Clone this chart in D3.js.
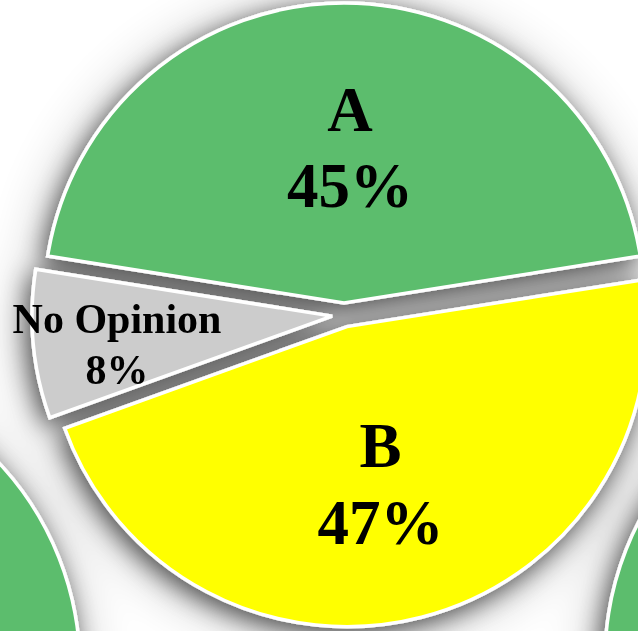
<!DOCTYPE html>
<html>
<head>
<meta charset="utf-8">
<script src="https://cdn.jsdelivr.net/npm/d3@7"></script>
<style>
  html, body { margin: 0; padding: 0; background: #fff; }
  svg { display: block; }
</style>
</head>
<body>
<svg id="chart" width="638" height="631"></svg>
<script>
// Survey responses
const categories = ["A", "B", "No Opinion"];
const values = [45, 47, 8];
const colors = ["#5bbd6d", "#ffff00", "#cccccc"];

const W = 638, H = 631;
const radius = 300;
const explode = 12;
const center = [344, 315];
// neighbouring pies of the grid, partly in view
const neighbours = [[-220, 668], [905, 660]];

const svg = d3.select("#chart");

// soft drop shadow: a tight blur plus a wider haze
const defs = svg.append("defs");
const f = defs.append("filter").attr("id", "shadow")
  .attr("filterUnits", "userSpaceOnUse")
  .attr("x", -150).attr("y", -150).attr("width", W + 300).attr("height", H + 300);
f.append("feGaussianBlur").attr("in", "SourceAlpha").attr("stdDeviation", 12).attr("result", "blurA");
f.append("feOffset").attr("in", "blurA").attr("dx", -4).attr("dy", 6).attr("result", "offA");
f.append("feComponentTransfer").attr("in", "offA").attr("result", "shadeA")
  .append("feFuncA").attr("type", "linear").attr("slope", 0.6);
f.append("feGaussianBlur").attr("in", "SourceAlpha").attr("stdDeviation", 28).attr("result", "blurB");
f.append("feOffset").attr("in", "blurB").attr("dx", -4).attr("dy", 6).attr("result", "offB");
f.append("feComponentTransfer").attr("in", "offB").attr("result", "shadeB")
  .append("feFuncA").attr("type", "linear").attr("slope", 0.3);
const merge = f.append("feMerge");
merge.append("feMergeNode").attr("in", "shadeB");
merge.append("feMergeNode").attr("in", "shadeA");
merge.append("feMergeNode").attr("in", "SourceGraphic");

const color = d3.scaleOrdinal().domain(categories).range(colors);

const total = d3.sum(values);
// first slice centred on twelve o'clock
const start = -Math.PI * values[0] / total;
const pie = d3.pie().sort(null).value(d => d.value)
  .startAngle(start).endAngle(start + 2 * Math.PI);
const data = categories.map((c, i) => ({ label: c, value: values[i] }));
const arcs = pie(data);

const arc = d3.arc().innerRadius(0).outerRadius(radius);

const plot = svg.append("g").attr("filter", "url(#shadow)");

// neighbouring pies: only their first slice is within the view
neighbours.forEach(c => {
  plot.append("circle")
    .attr("cx", c[0]).attr("cy", c[1]).attr("r", radius)
    .attr("fill", color(categories[0]))
    .attr("stroke", "#fff").attr("stroke-width", 3.5);
});

function offset(d) {
  const a = (d.startAngle + d.endAngle) / 2;
  return [center[0] + explode * Math.sin(a), center[1] - explode * Math.cos(a)];
}

plot.selectAll("path.slice")
  .data(arcs)
  .join("path")
  .attr("class", "slice")
  .attr("transform", d => `translate(${offset(d)})`)
  .attr("d", arc)
  .attr("fill", d => color(d.data.label))
  .attr("stroke", "#fff")
  .attr("stroke-width", 3.5)
  .attr("stroke-linejoin", "miter");

// labels: category on the first line, share on the second
const labels = svg.append("g")
  .attr("font-family", "'Liberation Serif', 'Times New Roman', serif")
  .attr("font-weight", "bold")
  .attr("fill", "#000")
  .attr("text-anchor", "middle");

arcs.forEach(d => {
  const small = d.value / total < 0.1;
  const fs = small ? 42 : 63;
  const lr = radius * (small ? 0.76 : 0.57);
  const p = d3.arc().innerRadius(lr).outerRadius(lr).centroid(d);
  // labels sit slightly left of and below the bisector point
  const x = center[0] + p[0] + (small ? 0 : -6) * Math.sign(p[1]);
  const y = center[1] + p[1] + (small ? 7 : 3);
  const gap = fs * 1.22;
  const t = labels.append("text").attr("font-size", fs);
  t.append("tspan").attr("x", x).attr("y", y - gap / 2 + fs * 0.35).text(d.data.label);
  t.append("tspan").attr("x", x).attr("y", y + gap / 2 + fs * 0.35).text(d.value + "%");
});
</script>
</body>
</html>
